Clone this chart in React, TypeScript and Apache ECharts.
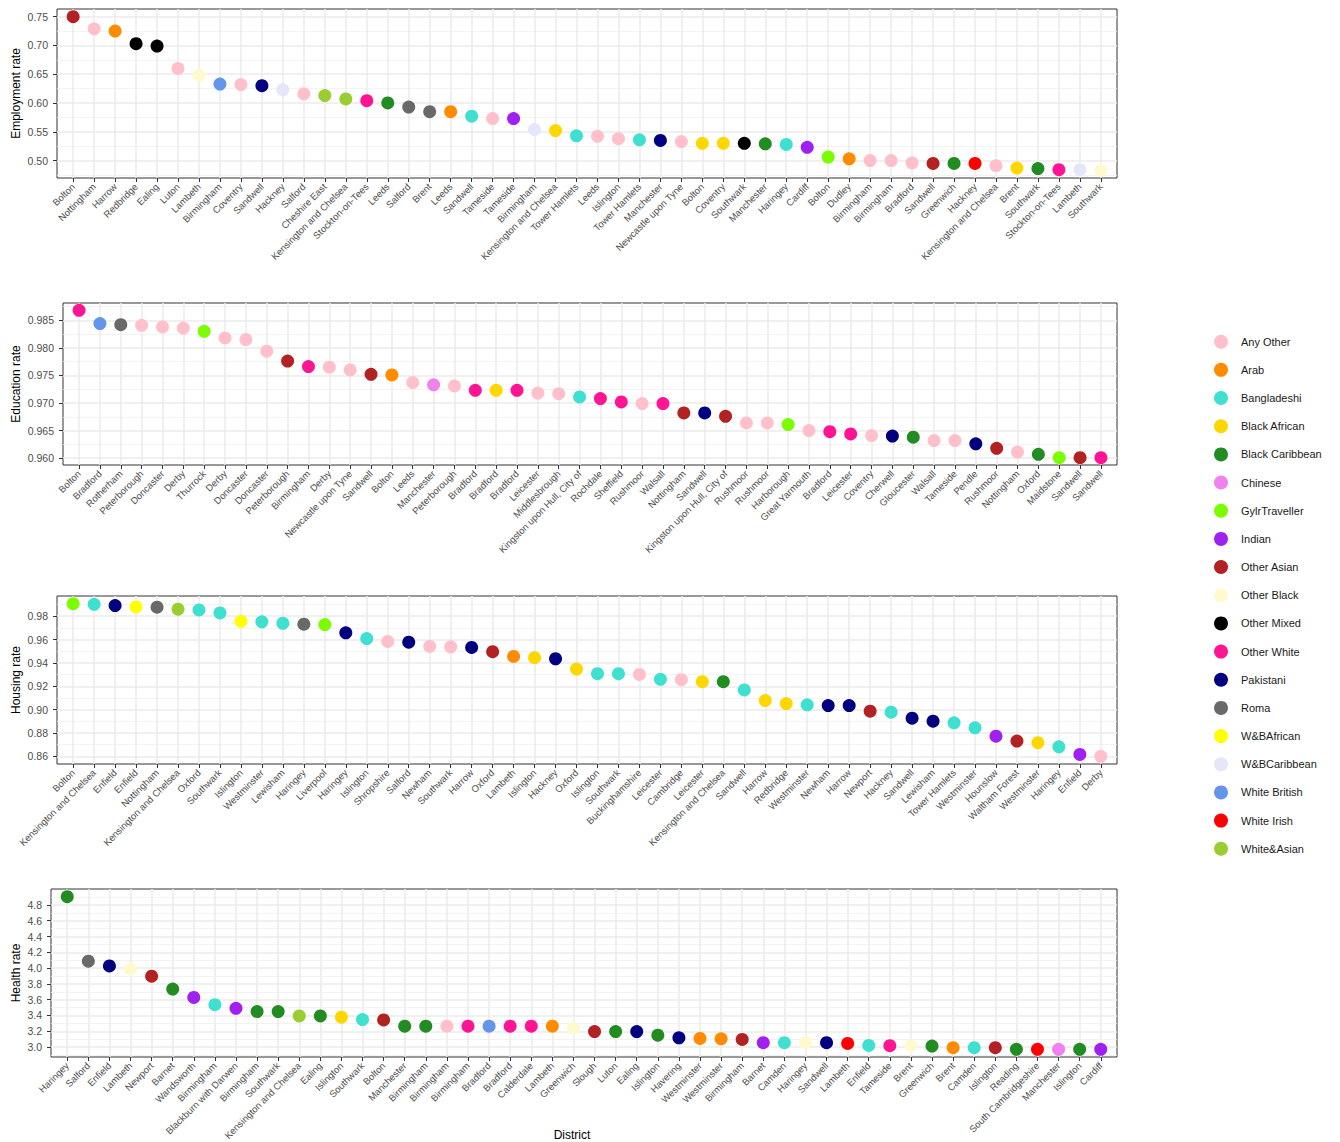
import React, { useEffect, useRef } from "react";
import * as echarts from "echarts";

const groups = ["Any Other","Arab","Bangladeshi","Black African","Black Caribbean","Chinese","GylrTraveller","Indian","Other Asian","Other Black","Other Mixed","Other White","Pakistani","Roma","W&BAfrican","W&BCaribbean","White British","White Irish","White&Asian"];
const groupColors = ["#FFC0CB","#FF8C00","#40E0D0","#FFD700","#228B22","#EE82EE","#7CFC00","#A020F0","#B22222","#FFFACD","#000000","#FF1493","#000080","#696969","#FFFF00","#E6E6FA","#6495ED","#FF0000","#9ACD32"];

const empDistricts = ["Bolton","Nottingham","Harrow","Redbridge","Ealing","Luton","Lambeth","Birmingham","Coventry","Sandwell","Hackney","Salford","Cheshire East","Kensington and Chelsea","Stockton-on-Tees","Leeds","Salford","Brent","Leeds","Sandwell","Tameside","Tameside","Birmingham","Kensington and Chelsea","Tower Hamlets","Leeds","Islington","Tower Hamlets","Manchester","Newcastle upon Tyne","Bolton","Coventry","Southwark","Manchester","Haringey","Cardiff","Bolton","Dudley","Birmingham","Birmingham","Bradford","Sandwell","Greenwich","Hackney","Kensington and Chelsea","Brent","Southwark","Stockton-on-Tees","Lambeth","Southwark"];
const empGroups = ["Other Asian","Any Other","Arab","Other Mixed","Other Mixed","Any Other","Other Black","White British","Any Other","Pakistani","W&BCaribbean","Any Other","White&Asian","White&Asian","Other White","Black Caribbean","Roma","Roma","Arab","Bangladeshi","Any Other","Indian","W&BCaribbean","Black African","Bangladeshi","Any Other","Any Other","Bangladeshi","Pakistani","Any Other","Black African","Black African","Other Mixed","Black Caribbean","Bangladeshi","Indian","GylrTraveller","Arab","Any Other","Any Other","Any Other","Other Asian","Black Caribbean","White Irish","Any Other","Black African","Black Caribbean","Other White","W&BCaribbean","Other Black"];
const empValues = [0.750,0.729,0.725,0.703,0.699,0.660,0.648,0.633,0.632,0.630,0.623,0.616,0.613,0.607,0.604,0.600,0.593,0.585,0.585,0.577,0.573,0.573,0.554,0.552,0.543,0.542,0.538,0.536,0.535,0.533,0.530,0.530,0.530,0.529,0.528,0.523,0.506,0.503,0.500,0.500,0.496,0.495,0.495,0.495,0.491,0.487,0.486,0.484,0.484,0.483];
const empTicks = [0.5,0.55,0.6,0.65,0.7,0.75];
const empMinor = [0.475,0.525,0.575,0.625,0.675,0.725];

const eduDistricts = ["Bolton","Bradford","Rotherham","Peterborough","Doncaster","Derby","Thurrock","Derby","Doncaster","Doncaster","Peterborough","Birmingham","Derby","Newcastle upon Tyne","Sandwell","Bolton","Leeds","Manchester","Peterborough","Bradford","Bradford","Bradford","Leicester","Middlesbrough","Kingston upon Hull, City of","Rochdale","Sheffield","Rushmoor","Walsall","Nottingham","Sandwell","Kingston upon Hull, City of","Rushmoor","Rushmoor","Harborough","Great Yarmouth","Bradford","Leicester","Coventry","Cherwell","Gloucester","Walsall","Tameside","Pendle","Rushmoor","Nottingham","Oxford","Maidstone","Sandwell","Sandwell"];
const eduGroups = ["Other White","White British","Roma","Any Other","Any Other","Any Other","GylrTraveller","Any Other","Any Other","Any Other","Other Asian","Other White","Any Other","Any Other","Other Asian","Arab","Any Other","Chinese","Any Other","Other White","Black African","Other White","Any Other","Any Other","Bangladeshi","Other White","Other White","Any Other","Other White","Other Asian","Pakistani","Other Asian","Any Other","Any Other","GylrTraveller","Any Other","Other White","Other White","Any Other","Pakistani","Black Caribbean","Any Other","Any Other","Pakistani","Other Asian","Any Other","Black Caribbean","GylrTraveller","Other Asian","Other White"];
const eduValues = [0.9868,0.9844,0.9842,0.9841,0.9838,0.9836,0.9830,0.9818,0.9815,0.9794,0.9776,0.9766,0.9765,0.9760,0.9752,0.9751,0.9737,0.9733,0.9731,0.9723,0.9723,0.9723,0.9718,0.9717,0.9711,0.9708,0.9702,0.9699,0.9699,0.9682,0.9682,0.9676,0.9664,0.9664,0.9661,0.9650,0.9648,0.9644,0.9641,0.9640,0.9638,0.9632,0.9632,0.9626,0.9618,0.9611,0.9607,0.9601,0.9601,0.9601];
const eduTicks = [0.96,0.965,0.97,0.975,0.98,0.985];
const eduMinor = [0.9625,0.9675,0.9725,0.9775,0.9825,0.9875];

const houDistricts = ["Bolton","Kensington and Chelsea","Enfield","Enfield","Nottingham","Kensington and Chelsea","Oxford","Southwark","Islington","Westminster","Lewisham","Haringey","Liverpool","Haringey","Islington","Shropshire","Salford","Newham","Southwark","Harrow","Oxford","Lambeth","Islington","Hackney","Oxford","Islington","Southwark","Buckinghamshire","Leicester","Cambridge","Leicester","Kensington and Chelsea","Sandwell","Harrow","Redbridge","Westminster","Newham","Harrow","Newport","Hackney","Sandwell","Lewisham","Tower Hamlets","Westminster","Hounslow","Waltham Forest","Westminster","Haringey","Enfield","Derby"];
const houGroups = ["GylrTraveller","Bangladeshi","Pakistani","W&BAfrican","Roma","White&Asian","Bangladeshi","Bangladeshi","W&BAfrican","Bangladeshi","Bangladeshi","Roma","GylrTraveller","Pakistani","Bangladeshi","Any Other","Pakistani","Any Other","Any Other","Pakistani","Other Asian","Arab","Black African","Pakistani","Black African","Bangladeshi","Bangladeshi","Any Other","Bangladeshi","Any Other","Black African","Black Caribbean","Bangladeshi","Black African","Black African","Bangladeshi","Pakistani","Pakistani","Other Asian","Bangladeshi","Pakistani","Pakistani","Bangladeshi","Bangladeshi","Indian","Other Asian","Black African","Bangladeshi","Indian","Any Other"];
const houValues = [0.9908,0.9902,0.9891,0.9880,0.9878,0.9860,0.9854,0.9828,0.9757,0.9752,0.9740,0.9732,0.9729,0.9658,0.9609,0.9584,0.9578,0.9541,0.9538,0.9533,0.9496,0.9456,0.9445,0.9436,0.9348,0.9308,0.9308,0.9302,0.9260,0.9257,0.9240,0.9240,0.9169,0.9078,0.9052,0.9041,0.9035,0.9035,0.8987,0.8978,0.8927,0.8901,0.8887,0.8845,0.8773,0.8731,0.8717,0.8682,0.8617,0.8600];
const houTicks = [0.86,0.88,0.9,0.92,0.94,0.96,0.98];
const houMinor = [0.87,0.89,0.91,0.93,0.95,0.97,0.99];

const heaDistricts = ["Haringey","Salford","Enfield","Lambeth","Newport","Barnet","Wandsworth","Birmingham","Blackburn with Darwen","Birmingham","Southwark","Kensington and Chelsea","Ealing","Islington","Southwark","Bolton","Manchester","Birmingham","Birmingham","Birmingham","Bradford","Bradford","Calderdale","Lambeth","Greenwich","Slough","Luton","Ealing","Islington","Havering","Westminster","Westminster","Birmingham","Barnet","Camden","Haringey","Sandwell","Lambeth","Enfield","Tameside","Brent","Greenwich","Brent","Camden","Islington","Reading","South Cambridgeshire","Manchester","Islington","Cardiff"];
const heaGroups = ["Black Caribbean","Roma","Pakistani","Other Black","Other Asian","Black Caribbean","Indian","Bangladeshi","Indian","Black Caribbean","Black Caribbean","White&Asian","Black Caribbean","Black African","Bangladeshi","Other Asian","Black Caribbean","Black Caribbean","Any Other","Other White","White British","Other White","Other White","Arab","Other Black","Other Asian","Black Caribbean","Pakistani","Black Caribbean","Pakistani","Arab","Arab","Other Asian","Indian","Bangladeshi","Other Black","Pakistani","White Irish","Bangladeshi","Other White","Other Black","Black Caribbean","Arab","Bangladeshi","Other Asian","Black Caribbean","White Irish","Chinese","Black Caribbean","Indian"];
const heaValues = [4.905,4.087,4.028,3.990,3.898,3.734,3.629,3.537,3.491,3.449,3.449,3.394,3.394,3.378,3.348,3.344,3.264,3.264,3.264,3.264,3.264,3.264,3.264,3.264,3.239,3.197,3.197,3.197,3.151,3.117,3.109,3.105,3.097,3.055,3.055,3.055,3.055,3.046,3.021,3.017,3.017,3.013,2.992,2.992,2.992,2.971,2.971,2.971,2.971,2.971];
const heaTicks = [3.0,3.2,3.4,3.6,3.8,4.0,4.2,4.4,4.6,4.8];
const heaMinor = [2.9,3.1,3.3,3.5,3.7,3.9,4.1,4.3,4.5,4.7,4.9];

const panels = [
  { title: "Employment rate", names: empDistricts, groups: empGroups, values: empValues, ticks: empTicks, minor: empMinor, dec: 2 },
  { title: "Education rate", names: eduDistricts, groups: eduGroups, values: eduValues, ticks: eduTicks, minor: eduMinor, dec: 3 },
  { title: "Housing rate", names: houDistricts, groups: houGroups, values: houValues, ticks: houTicks, minor: houMinor, dec: 2 },
  { title: "Health rate", names: heaDistricts, groups: heaGroups, values: heaValues, ticks: heaTicks, minor: heaMinor, dec: 1 },
];

// plot-area layout (pixels)
const layout = [
  { left: 57, top: 9, right: 1117, bottom: 178 },
  { left: 63, top: 303, right: 1117, bottom: 465 },
  { left: 57, top: 596, right: 1117, bottom: 764 },
  { left: 51, top: 889, right: 1117, bottom: 1057 },
];

const FONT = "'Liberation Sans', Arial, Helvetica, sans-serif";

function buildOption() {
  const grid: any[] = [];
  const xAxis: any[] = [];
  const yAxis: any[] = [];
  const series: any[] = [];
  panels.forEach((p, i) => {
    const L = layout[i];
    grid.push({
      left: L.left, top: L.top, width: L.right - L.left, height: L.bottom - L.top,
      show: true, borderColor: "#333333", borderWidth: 1, backgroundColor: "transparent",
      containLabel: false, outerBoundsMode: "none",
    });
    const xs = p.names.map((_, k) => k + 1);
    const n = p.names.length;
    const exp = 0.77;
    xAxis.push({
      type: "value", gridIndex: i, min: 1 - exp, max: n + exp,
      axisLine: { show: false },
      axisTick: { show: true, length: 4, lineStyle: { color: "#333333", width: 1 }, customValues: xs },
      axisLabel: {
        customValues: xs, rotate: 45, fontSize: 9.5, color: "#4D4D4D", margin: 7, fontFamily: FONT,
        formatter: (v: number) => p.names[Math.round(v) - 1] || "",
      },
      splitLine: { show: true, lineStyle: { color: "#EBEBEB", width: 1.5 } },
    });
    const vmin = Math.min(...p.values), vmax = Math.max(...p.values);
    const pad = (vmax - vmin) * 0.05;
    const ymin = vmin - pad, ymax = vmax + pad;
    yAxis.push({
      type: "value", gridIndex: i, min: ymin, max: ymax, position: "left",
      axisLine: { show: false },
      axisTick: { show: true, length: 4, lineStyle: { color: "#333333", width: 1 }, customValues: p.ticks },
      axisLabel: {
        customValues: p.ticks, fontSize: 10.5, color: "#4D4D4D", margin: 9, fontFamily: FONT,
        formatter: (v: number) => v.toFixed(p.dec),
      },
      splitLine: { show: true, lineStyle: { color: "#EBEBEB", width: 1.5 } },
      name: p.title, nameLocation: "middle", nameGap: L.left - 22, nameMoveOverlap: false,
      nameTextStyle: { fontSize: 12, color: "#000000", fontFamily: FONT },
    });
    yAxis.push({
      type: "value", gridIndex: i, min: ymin, max: ymax, position: "left", offset: 0,
      axisLine: { show: false },
      axisTick: { show: false, customValues: p.minor },
      axisLabel: { show: false, customValues: p.minor },
      splitLine: { show: true, lineStyle: { color: "#F0F0F0", width: 0.8 } },
    });
    groups.forEach((g, gi) => {
      const data: number[][] = [];
      p.values.forEach((v, k) => { if (p.groups[k] === g) data.push([k + 1, v]); });
      if (!data.length) return;
      series.push({
        type: "scatter", name: g, xAxisIndex: i, yAxisIndex: i * 2,
        symbol: "circle", symbolSize: 13, data,
        itemStyle: { color: groupColors[gi], opacity: 1 },
        emphasis: { disabled: true }, silent: true, z: 3,
      });
    });
  });
  return {
    animation: false,
    backgroundColor: "#FFFFFF",
    textStyle: { fontFamily: FONT },
    grid, xAxis, yAxis, series,
    legend: {
      orient: "vertical", left: 1209, top: 329.7,
      itemWidth: 30, itemHeight: 14, itemGap: 14.17, icon: "circle",
      selectedMode: false, data: groups,
      textStyle: { fontSize: 11, color: "#1A1A1A", fontFamily: FONT },
    },
    graphic: [
      {
        type: "text", x: 572, y: 1135,
        style: { text: "District", textAlign: "center", textVerticalAlign: "middle", fontSize: 12, fill: "#000000", fontFamily: FONT },
      },
    ],
  };
}

export default function App() {
  const ref = useRef<HTMLDivElement>(null);
  useEffect(() => {
    if (!ref.current) return;
    const chart = echarts.init(ref.current, undefined, { renderer: "svg" });
    chart.setOption(buildOption() as any);
    return () => chart.dispose();
  }, []);
  return <div ref={ref} style={{ position: "absolute", left: 0, top: 0, width: 1340, height: 1142 }} />;
}
